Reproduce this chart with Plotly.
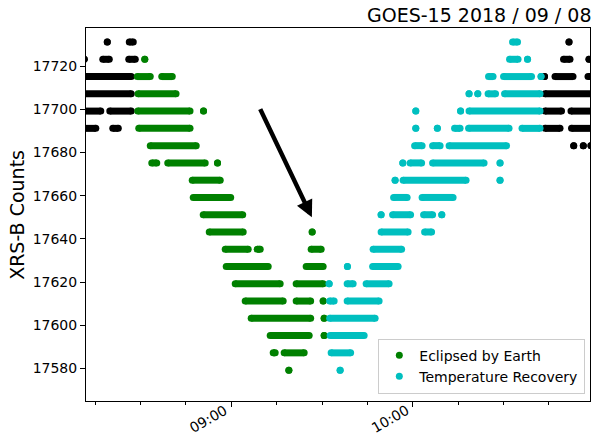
import pandas as pd
import plotly.graph_objects as go

# Segments of consecutive samples at one quantised count level:
# (XRS-B counts, start minute after 08:00 UT, end minute after 08:00 UT)
base_time = pd.Timestamp("2018-09-08 08:00:00")

background_segments = [
    (17731.2, 19.05, 19.05), (17731.2, 26.32, 27.64), (17731.2, 171.61, 171.61),
    (17723.2, 11.46, 11.46), (17723.2, 17.57, 19.71), (17723.2, 26.15, 28.30),
    (17723.2, 169.80, 171.94), (17723.2, 178.22, 178.22),
    (17715.2, 11.00, 26.98), (17715.2, 163.52, 163.52), (17715.2, 166.99, 172.94),
    (17715.2, 177.89, 180.00),
    (17707.2, 11.00, 26.98), (17707.2, 163.69, 180.00),
    (17699.2, 11.00, 16.91), (17699.2, 19.88, 26.98), (17699.2, 163.69, 169.14),
    (17699.2, 172.27, 180.00),
    (17691.2, 11.00, 15.26), (17691.2, 20.87, 22.69), (17691.2, 163.69, 168.64),
    (17691.2, 172.44, 180.00),
    (17683.2, 173.17, 173.17), (17683.2, 176.34, 176.34), (17683.2, 178.88, 178.88),
]

eclipse_segments = [
    (17723.2, 31.44, 31.44),
    (17715.2, 28.96, 33.25), (17715.2, 37.05, 40.52),
    (17707.2, 29.22, 41.77),
    (17699.2, 29.12, 46.39), (17699.2, 50.85, 50.85),
    (17691.2, 29.45, 46.39),
    (17683.2, 33.25, 48.44),
    (17675.2, 33.75, 35.40), (17675.2, 39.03, 51.41), (17675.2, 55.48, 55.48),
    (17667.2, 47.12, 56.37),
    (17659.2, 47.45, 59.83),
    (17651.2, 50.75, 63.80),
    (17643.2, 52.74, 63.96), (17643.2, 86.75, 86.75),
    (17635.2, 58.02, 65.61), (17635.2, 68.59, 69.58), (17635.2, 86.42, 89.72),
    (17627.2, 58.35, 72.22), (17627.2, 84.77, 90.38),
    (17619.2, 61.32, 76.18), (17619.2, 81.46, 90.38),
    (17611.2, 64.62, 77.17), (17611.2, 81.46, 86.25), (17611.2, 90.38, 90.38),
    (17603.2, 66.60, 86.25), (17603.2, 90.71, 90.71),
    (17595.2, 72.88, 85.76), (17595.2, 90.71, 90.71),
    (17587.2, 73.87, 74.53), (17587.2, 77.50, 84.11),
    (17579.2, 79.05, 79.05),
]

recovery_segments = [
    (17731.2, 152.96, 154.61),
    (17723.2, 151.97, 154.77), (17723.2, 157.91, 157.91),
    (17715.2, 145.03, 146.52), (17715.2, 149.99, 159.23), (17715.2, 162.37, 162.37),
    (17707.2, 138.59, 138.59), (17707.2, 141.47, 141.47), (17707.2, 144.87, 147.34),
    (17707.2, 150.32, 162.04),
    (17699.2, 120.99, 120.99), (17699.2, 135.79, 135.79), (17699.2, 138.59, 162.04),
    (17691.2, 120.99, 120.99), (17691.2, 128.12, 128.12), (17691.2, 133.80, 135.62),
    (17691.2, 138.43, 151.80), (17691.2, 156.09, 162.04),
    (17683.2, 120.60, 123.07), (17683.2, 126.54, 129.02), (17683.2, 131.99, 150.98),
    (17675.2, 116.70, 116.70), (17675.2, 119.11, 122.91), (17675.2, 126.54, 143.55),
    (17675.2, 148.83, 148.83),
    (17667.2, 114.16, 114.16), (17667.2, 116.80, 137.60), (17667.2, 148.83, 148.83),
    (17659.2, 113.66, 118.12), (17659.2, 123.07, 133.31),
    (17651.2, 109.53, 109.53), (17651.2, 113.33, 119.27), (17651.2, 123.57, 126.54),
    (17651.2, 129.58, 129.58),
    (17643.2, 109.53, 118.45), (17643.2, 123.90, 126.21),
    (17635.2, 106.89, 116.30),
    (17627.2, 98.40, 98.40), (17627.2, 106.73, 115.15),
    (17619.2, 92.36, 92.36), (17619.2, 98.31, 100.29), (17619.2, 104.58, 112.17),
    (17611.2, 92.53, 94.01), (17611.2, 98.31, 108.87),
    (17603.2, 92.53, 107.55),
    (17595.2, 92.69, 103.92),
    (17587.2, 93.02, 99.46),
    (17579.2, 95.99, 95.99),
]

y_tick_values = [17580, 17600, 17620, 17640, 17660, 17680, 17700, 17720]
x_tick_times = ["2018-09-08 09:00:00", "2018-09-08 10:00:00"]
x_tick_labels = ["09:00", "10:00"]
x_range_minutes = [12.02, 178.55]
y_range = [17564.9, 17737.7]
arrow_tip = (86.65, 17650.0)
arrow_tail = (69.35, 17700.8)
title_text = "GOES-15 2018 / 09 / 08"
y_label = "XRS-B Counts"
series_names = ["Eclipsed by Earth", "Temperature Recovery"]


def tm(m):
    return base_time + pd.to_timedelta(m, unit="min")


def seg_xy(segs):
    xs, ys = [], []
    for lev, a, b in segs:
        xs += [tm(a), tm(b), None]
        ys += [lev, lev, None]
    return xs, ys


FONT = "DejaVu Sans"
fig = go.Figure()
for segs, color in [(background_segments, "#000000"),
                    (eclipse_segments, "#008000"),
                    (recovery_segments, "#00bfbf")]:
    xs, ys = seg_xy(segs)
    fig.add_trace(go.Scatter(
        x=xs, y=ys, mode="lines+markers",
        line=dict(color=color, width=7),
        marker=dict(color=color, size=7),
        showlegend=False, hoverinfo="skip"))

for name, color in zip(series_names, ["#008000", "#00bfbf"]):
    fig.add_trace(go.Scatter(
        x=[None], y=[None], mode="markers", name=name,
        marker=dict(color=color, size=7)))

fig.add_annotation(
    x=tm(arrow_tip[0]), y=arrow_tip[1], xref="x", yref="y",
    ax=tm(arrow_tail[0]), ay=arrow_tail[1], axref="x", ayref="y",
    text="", showarrow=True, arrowhead=2, arrowsize=0.75,
    arrowwidth=4.5, arrowcolor="black")

fig.add_annotation(
    x=1, y=1, xref="paper", yref="paper", xanchor="right", yanchor="bottom",
    text=title_text, showarrow=False, xshift=3,
    font=dict(family=FONT, size=19, color="black"))

fig.add_annotation(
    x=-0.1382, y=0.5, xref="paper", yref="paper", xanchor="center", yanchor="middle",
    text=y_label, textangle=-90, showarrow=False,
    font=dict(family=FONT, size=19, color="black"))

for t, lab in zip(x_tick_times, x_tick_labels):
    fig.add_annotation(
        x=t, y=0, xref="x", yref="paper", xanchor="right", yanchor="top",
        text=lab, textangle=-30, showarrow=False, yshift=2, xshift=1,
        font=dict(family=FONT, size=14, color="black"))

fig.update_layout(
    width=592, height=446,
    margin=dict(l=86, r=2, t=28, b=45, autoexpand=False),
    paper_bgcolor="white", plot_bgcolor="white",
    font=dict(family=FONT, size=14, color="black"),
    legend=dict(x=0.9907, y=0.02, xanchor="right", yanchor="bottom",
                bgcolor="rgba(255,255,255,0.8)", bordercolor="#cccccc",
                borderwidth=1, font=dict(size=14, family=FONT)),
)
fig.update_xaxes(
    type="date", range=[tm(x_range_minutes[0]), tm(x_range_minutes[1])],
    tick0="2018-09-08 09:00:00", dtick=3600000, showticklabels=False,
    ticks="outside", ticklen=5, tickcolor="black", automargin=False,
    showline=True, linecolor="black", linewidth=1, mirror=True,
    showgrid=False, zeroline=False,
    minor=dict(dtick=900000, tick0="2018-09-08 09:00:00",
               ticks="outside", ticklen=3, tickcolor="black", showgrid=False))
fig.update_yaxes(
    range=y_range, tickvals=y_tick_values, tickformat="d", automargin=False,
    ticks="outside", ticklen=5, tickcolor="black",
    showline=True, linecolor="black", linewidth=1, mirror=True,
    showgrid=False, zeroline=False,
    tickfont=dict(size=14, family=FONT))

fig.write_html(
    "out.html",
    config={"displayModeBar": False},
    post_script="document.body.style.margin='0';document.body.style.overflow='hidden';")
